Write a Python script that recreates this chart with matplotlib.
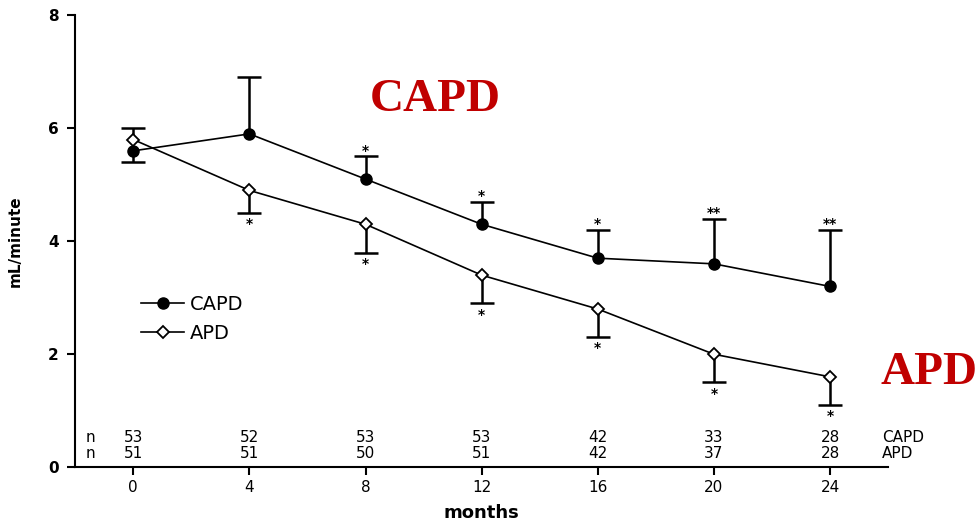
import matplotlib
matplotlib.use('Agg')
import matplotlib.pyplot as plt
import numpy as np

months = [0, 4, 8, 12, 16, 20, 24]
capd = [5.6, 5.9, 5.1, 4.3, 3.7, 3.6, 3.2]
capd_lo = [0.2, 0, 0, 0, 0, 0, 0]
capd_hi = [0.0, 1.0, 0.4, 0.4, 0.5, 0.8, 1.0]
apd = [5.8, 4.9, 4.3, 3.4, 2.8, 2.0, 1.6]
apd_lo = [0.0, 0.4, 0.5, 0.5, 0.5, 0.5, 0.5]
apd_hi = [0.2, 0, 0, 0, 0, 0, 0]
capd_sig = ['', '', '*', '*', '*', '**', '**']
apd_sig = ['', '*', '*', '*', '*', '*', '*']
n_capd = [53, 52, 53, 53, 42, 33, 28]
n_apd = [51, 51, 50, 51, 42, 37, 28]

plt.rcParams['font.family'] = ['DejaVu Sans']

fig = plt.figure(figsize=(9.76, 5.25), dpi=100)
ax = fig.add_axes([0.077, 0.110, 0.833, 0.861])

x = np.array(months)


def draw_err(y, lo, hi):
    y = np.array(y)
    lo = np.array(lo)
    hi = np.array(hi)
    ax.vlines(x, y - lo, y + hi, color='black', lw=1.8, zorder=2)
    m = hi > 0
    ax.plot(x[m], (y + hi)[m], ls='none', marker='_', ms=17, mew=1.8, color='black', zorder=2)
    m = lo > 0
    ax.plot(x[m], (y - lo)[m], ls='none', marker='_', ms=17, mew=1.8, color='black', zorder=2)


draw_err(capd, capd_lo, capd_hi)
draw_err(apd, apd_lo, apd_hi)

ax.plot(x, capd, color='black', lw=1.2, marker='o', ms=8, mfc='black', mec='black', label='CAPD', zorder=3)
ax.plot(x, apd, color='black', lw=1.2, marker='D', ms=6.5, mfc='white', mec='black', mew=1.3, label='APD', zorder=3)

for xi, yi, h, s in zip(months, capd, capd_hi, capd_sig):
    if s:
        ax.annotate(s, (xi, yi + h), xytext=(0, -1), textcoords='offset points',
                    ha='center', va='bottom', fontsize=10, fontweight='bold')
for xi, yi, l, s in zip(months, apd, apd_lo, apd_sig):
    if s:
        ax.annotate(s, (xi, yi - l), xytext=(0, -3), textcoords='offset points',
                    ha='center', va='top', fontsize=10, fontweight='bold')

# n table
for xi, a, b in zip(months, n_capd, n_apd):
    ax.text(xi, 0.53, str(a), ha='center', va='center', fontsize=11)
    ax.text(xi, 0.25, str(b), ha='center', va='center', fontsize=11)
ax.text(-1.65, 0.53, 'n', ha='left', va='center', fontsize=11)
ax.text(-1.65, 0.25, 'n', ha='left', va='center', fontsize=11)
ax.text(25.8, 0.53, 'CAPD', ha='left', va='center', fontsize=11, clip_on=False)
ax.text(25.8, 0.25, 'APD', ha='left', va='center', fontsize=11, clip_on=False)

# red labels
ax.text(10.4, 6.5, 'CAPD', color='#c00000', fontsize=34, fontweight='bold',
        family='Liberation Serif', ha='center', va='center')
ax.text(25.75, 1.66, 'APD', color='#c00000', fontsize=34, fontweight='bold',
        family='Liberation Serif', ha='left', va='center', clip_on=False)

ax.set_xlim(-2, 26)
ax.set_ylim(0, 8)
ax.set_xticks(months)
ax.set_yticks([0, 2, 4, 6, 8])
ax.spines['top'].set_visible(False)
ax.spines['right'].set_visible(False)
ax.spines['left'].set_linewidth(1.5)
ax.spines['bottom'].set_linewidth(1.5)
ax.tick_params(axis='both', labelsize=11, width=1.5, length=6)
ax.tick_params(axis='y', pad=6)
for lab in ax.get_yticklabels():
    lab.set_fontweight('bold')
ax.set_ylabel('mL/minute', fontsize=11, fontweight='bold', labelpad=18)
ax.set_xlabel('months', fontsize=13, fontweight='bold', labelpad=6)

ax.legend(loc='upper left', bbox_to_anchor=(0.06, 0.42), frameon=False, fontsize=14,
          handlelength=2.2, handletextpad=0.3, labelspacing=0.5)

fig.savefig('out.png', dpi=100)
